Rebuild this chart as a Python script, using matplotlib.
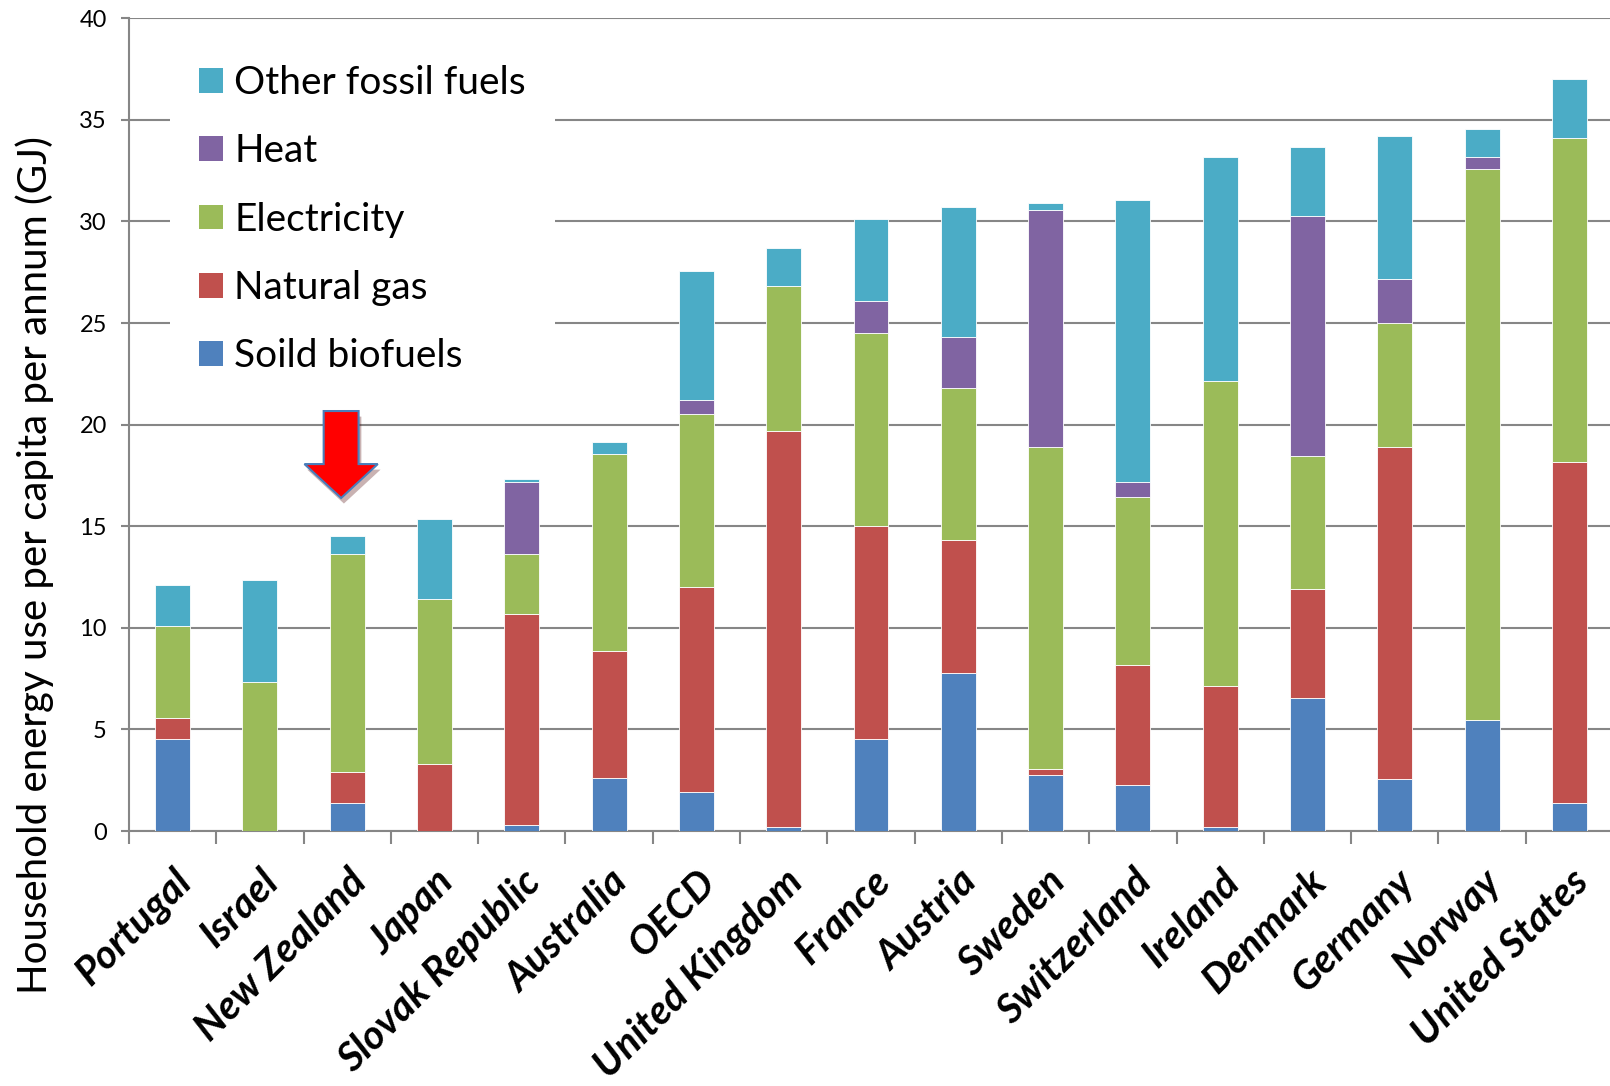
import matplotlib
matplotlib.use("Agg")
import matplotlib.pyplot as plt
import matplotlib.patheffects as pe
from matplotlib.patches import FancyArrow, Patch
import numpy as np

countries = ["Portugal", "Israel", "New Zealand", "Japan", "Slovak Republic", "Australia",
             "OECD", "United Kingdom", "France", "Austria", "Sweden", "Switzerland",
             "Ireland", "Denmark", "Germany", "Norway", "United States"]

solid_biofuels = [4.55, 0.0, 1.36, 0.0, 0.30, 2.62, 1.93, 0.20, 4.53, 7.80, 2.78, 2.24, 0.20, 6.57, 2.54, 5.45, 1.40]
natural_gas    = [1.02, 0.0, 1.56, 3.30, 10.38, 6.26, 10.06, 19.49, 10.49, 6.50, 0.27, 5.94, 6.94, 5.32, 16.38, 0.0, 16.77]
electricity    = [4.54, 7.33, 10.70, 8.10, 2.95, 9.67, 8.54, 7.15, 9.50, 7.48, 15.87, 8.25, 15.03, 6.56, 6.08, 27.12, 15.95]
heat           = [0.0, 0.0, 0.0, 0.0, 3.56, 0.0, 0.66, 0.0, 1.58, 2.54, 11.64, 0.75, 0.0, 11.83, 2.17, 0.58, 0.0]
other_fossil   = [1.98, 5.02, 0.90, 3.94, 0.12, 0.58, 6.39, 1.85, 4.03, 6.38, 0.34, 13.90, 10.99, 3.39, 7.02, 1.40, 2.89]

series_names = ["Soild biofuels", "Natural gas", "Electricity", "Heat", "Other fossil fuels"]
series_vals = [solid_biofuels, natural_gas, electricity, heat, other_fossil]
colors = ["#4F81BD", "#C0504D", "#9BBB59", "#8064A2", "#4BACC6"]

yticks = [0, 5, 10, 15, 20, 25, 30, 35, 40]
ylabel = "Household energy use per capita per annum (GJ)"

W, H = 1610, 1086
fig = plt.figure(figsize=(W / 100, H / 100), dpi=100)
ax_left, ax_right = 129 / W, 1613 / W
ax_bottom, ax_top = (H - 831) / H, (H - 18.3) / H
ax = fig.add_axes([ax_left, ax_bottom, ax_right - ax_left, ax_top - ax_bottom])

FONT = "Lato"
grid_col = "#868686"

x = np.arange(len(countries))
bottom = np.zeros(len(countries))
for name, vals, c in zip(series_names, series_vals, colors):
    v = np.array(vals)
    ax.bar(x, v, width=0.4, bottom=bottom, color=c, edgecolor="white", linewidth=0.6, zorder=3, label=name)
    bottom += v

ax.set_xlim(-0.5, len(countries) - 0.5)
ax.set_ylim(0, 40)
ax.set_yticks(yticks)
ax.set_yticklabels([str(t) for t in yticks], fontsize=17, family=FONT)
ax.yaxis.grid(True, color=grid_col, linewidth=1.5, zorder=0)
ax.set_axisbelow(True)

for s in ["top", "right"]:
    ax.spines[s].set_visible(False)
for s in ["left", "bottom"]:
    ax.spines[s].set_color(grid_col)
    ax.spines[s].set_linewidth(1.5)
ax.tick_params(axis="y", direction="out", length=6, width=1.5, color=grid_col, pad=10)

ax.set_xticks(x)
ax.set_xticklabels(countries, rotation=45, ha="right", va="top", rotation_mode="anchor",
                   fontsize=29, fontweight="bold", fontstyle="italic", family=FONT)
ax.tick_params(axis="x", which="major", length=0, pad=23)
ax.set_xticks(np.arange(-0.5, len(countries), 1), minor=True)
ax.tick_params(axis="x", which="minor", direction="out", length=9, width=1.5, color=grid_col)

ax.set_ylabel(ylabel, fontsize=29, family=FONT, va="center")
ax.yaxis.set_label_coords((35 - 129) / 1484, (831 - 565) / 812.7)

handles = [Patch(facecolor=c, edgecolor="none") for c in colors][::-1]
labels = series_names[::-1]
leg = ax.legend(handles, labels, loc="upper left", bbox_to_anchor=((170 - 129) / 1484, (831 - 36) / 812.7),
                frameon=True, fancybox=False, framealpha=1, edgecolor="none", facecolor="white",
                prop={"family": FONT, "size": 28}, handlelength=0.6, handleheight=0.6,
                handletextpad=0.3, labelspacing=0.83, borderpad=0.75, borderaxespad=0)
leg.set_zorder(5)

arrow = FancyArrow(1.93, 20.67, 0, -4.28, width=0.4, head_width=0.84, head_length=1.67,
                   length_includes_head=True, facecolor="#FF0000", edgecolor="#4A7EBB",
                   linewidth=1.5, zorder=6)
arrow.set_path_effects([pe.SimplePatchShadow(offset=(2, -4), alpha=0.3), pe.Normal()])
ax.add_patch(arrow)

fig.savefig("out.png", dpi=100)
